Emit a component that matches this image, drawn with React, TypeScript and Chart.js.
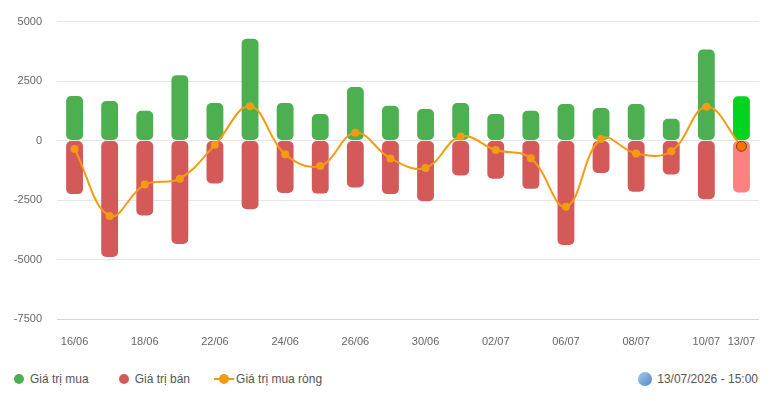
import React, { useEffect, useRef } from 'react';
import Chart from 'chart.js/auto';

const labels = [
  '16/06', '17/06', '18/06', '19/06', '22/06', '23/06', '24/06', '25/06', '26/06', '29/06',
  '30/06', '01/07', '02/07', '03/07', '06/07', '07/07', '08/07', '09/07', '10/07', '13/07',
];
const buyValues = [1870, 1660, 1250, 2750, 1580, 4280, 1580, 1120, 2250, 1460, 1330, 1580, 1120, 1250, 1540, 1370, 1540, 920, 3830, 1860];
const sellValues = [-2250, -4890, -3150, -4350, -1800, -2890, -2200, -2230, -1970, -2250, -2550, -1470, -1600, -2030, -4390, -1360, -2150, -1430, -2470, -2180];
const netValues = [-350, -3170, -1850, -1600, -180, 1440, -580, -1070, 330, -750, -1150, 170, -400, -740, -2780, 70, -540, -450, 1420, -240];
const yTicks = [-7500, -5000, -2500, 0, 2500, 5000];

const GREEN = '#4caf50';
const RED = '#d45a5a';
const ORANGE = '#f39c12';
const FONT = "'Liberation Sans', Arial, sans-serif";

const last = labels.length - 1;

export default function App() {
  const canvasRef = useRef<HTMLCanvasElement>(null);

  useEffect(() => {
    document.body.style.margin = '0';
    const ctx = canvasRef.current?.getContext('2d');
    let chart: Chart;
    if (ctx) {
      chart = new Chart(ctx, {
        type: 'bar',
        data: {
          labels,
          datasets: [
            {
              type: 'line',
              label: 'Giá trị mua ròng',
              data: netValues,
              borderColor: ORANGE,
              borderWidth: 2,
              tension: 0.4,
              pointRadius: netValues.map((_, i) => (i === last ? 5 : 4)),
              pointBackgroundColor: netValues.map((_, i) => (i === last ? '#ff7300' : ORANGE)),
              pointBorderColor: netValues.map((_, i) => (i === last ? '#7a3b0a' : ORANGE)),
              pointBorderWidth: netValues.map((_, i) => (i === last ? 1 : 0)),
              order: 0,
            },
            {
              label: 'Giá trị mua',
              data: buyValues,
              backgroundColor: buyValues.map((_, i) => (i === last ? '#00d41e' : GREEN)),
              borderRadius: 5,
              borderSkipped: false,
              barPercentage: 0.48,
              categoryPercentage: 1,
              order: 1,
            },
            {
              label: 'Giá trị bán',
              data: sellValues,
              backgroundColor: sellValues.map((_, i) => (i === last ? '#ff8080' : RED)),
              borderRadius: 5,
              borderSkipped: false,
              barPercentage: 0.48,
              categoryPercentage: 1,
              order: 2,
            },
          ],
        },
        options: {
          animation: false,
          responsive: true,
          maintainAspectRatio: false,
          layout: { padding: { top: 19, right: 15, left: 0, bottom: 0 } },
          plugins: {
            legend: { display: false },
            tooltip: { enabled: false },
          },
          scales: {
            x: {
              stacked: true,
              grid: { display: false },
              border: { display: false },
              ticks: {
                autoSkip: false,
                maxRotation: 0,
                padding: 8,
                color: '#666',
                font: { family: FONT, size: 11 },
                callback: (_v, i) => (i % 2 === 0 || i === last ? labels[i] : ''),
              },
              afterFit: (scale) => {
                scale.height = 30;
              },
            },
            y: {
              min: yTicks[0],
              max: yTicks[yTicks.length - 1],
              afterBuildTicks: (scale) => {
                scale.ticks = yTicks.map((v) => ({ value: v }));
              },
              grid: {
                drawTicks: false,
                color: (c) => (c.tick && c.tick.value === yTicks[0] ? '#ccd6eb' : '#e6e6e6'),
              },
              border: { display: false },
              ticks: {
                padding: 15,
                color: '#666',
                font: { family: FONT, size: 11 },
                callback: (v) => String(v),
              },
              afterFit: (scale) => {
                scale.width = 57;
              },
            },
          },
        },
      });
    }
    return () => {
      chart?.destroy();
    };
  }, []);

  const legendText: React.CSSProperties = { color: '#555', fontSize: 12, fontFamily: FONT };
  const dot = (color: string): React.CSSProperties => ({
    display: 'inline-block',
    width: 10,
    height: 10,
    borderRadius: '50%',
    background: color,
    marginRight: 6,
  });

  return (
    <div style={{ position: 'relative', width: 774, height: 401, background: '#fff' }}>
      <div style={{ position: 'relative', width: 774, height: 349 }}>
        <canvas ref={canvasRef}></canvas>
      </div>
      <div style={{ position: 'absolute', left: 14, top: 372, display: 'flex', alignItems: 'center', ...legendText }}>
        <span style={dot(GREEN)}></span>
        <span style={{ marginRight: 30 }}>Giá trị mua</span>
        <span style={dot(RED)}></span>
        <span style={{ marginRight: 24 }}>Giá trị bán</span>
        <span style={{ position: 'relative', display: 'inline-block', width: 20, height: 10, marginRight: 2 }}>
          <span style={{ position: 'absolute', left: 0, top: 4, width: 20, height: 2, background: ORANGE }}></span>
          <span style={{ position: 'absolute', left: 5, top: 0, width: 10, height: 10, borderRadius: '50%', background: ORANGE }}></span>
        </span>
        <span>Giá trị mua ròng</span>
      </div>
      <div style={{ position: 'absolute', right: 16, top: 372, display: 'flex', alignItems: 'center', ...legendText }}>
        <span
          style={{
            display: 'inline-block',
            width: 14,
            height: 14,
            borderRadius: '50%',
            background: 'linear-gradient(135deg, #a9c8ea, #4f88c6)',
            marginRight: 5,
          }}
        ></span>
        <span>13/07/2026 - 15:00</span>
      </div>
    </div>
  );
}
